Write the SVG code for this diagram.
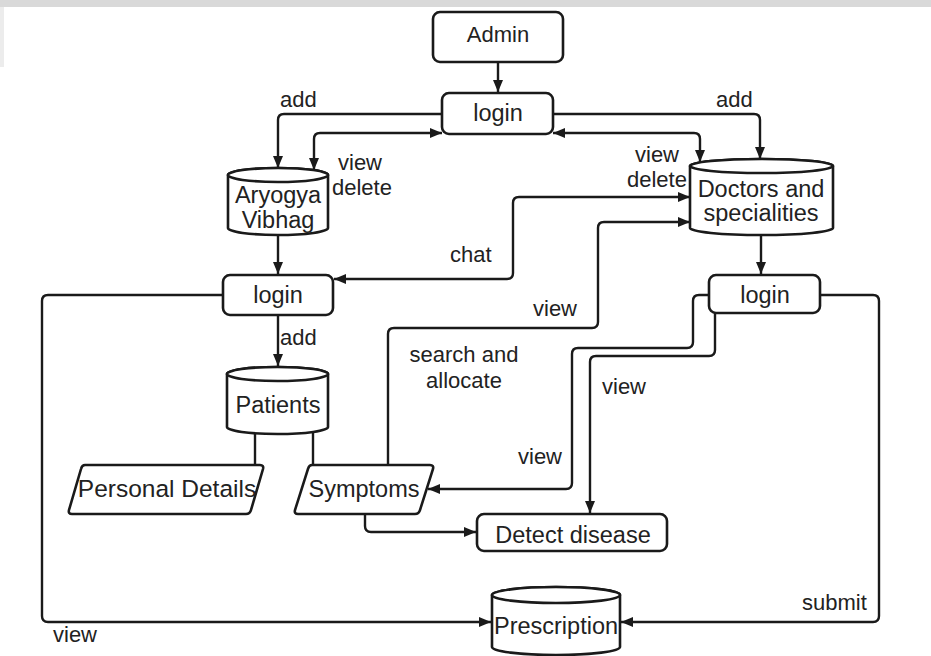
<svg xmlns="http://www.w3.org/2000/svg" width="931" height="656" viewBox="0 0 931 656">
<style>
  .shape { fill: #ffffff; stroke: #1a1a1a; stroke-width: 2.6; }
  .conn { fill: none; stroke: #1a1a1a; stroke-width: 2.4; }
  text { font-family: "Liberation Sans", Arial, sans-serif; font-size: 22px; fill: #222222; }
  .n { font-size: 23.5px; text-anchor: middle; }
  .c { text-anchor: middle; }
</style>
<defs>
  <marker id="arr" markerUnits="userSpaceOnUse" markerWidth="13" markerHeight="11" refX="12" refY="5" orient="auto-start-reverse" viewBox="0 0 13 11">
    <path d="M0,0 L12,5 L0,10 Z" fill="#1a1a1a"/>
  </marker>
</defs>
<rect x="0" y="0" width="931" height="7" fill="#d9d9d9"/>
<rect x="0" y="7" width="4" height="60" fill="#ececec"/>

<g id="connectors">
  <path class="conn" d="M498,62 V92" marker-end="url(#arr)"/>
  <path class="conn" d="M442,114 H284 Q278,114 278,120 V168" marker-end="url(#arr)"/>
  <path class="conn" d="M442,133 H320 Q314,133 314,139 V170" marker-start="url(#arr)" marker-end="url(#arr)"/>
  <path class="conn" d="M553,114 H754 Q760,114 760,120 V159" marker-end="url(#arr)"/>
  <path class="conn" d="M553,133 H694 Q700,133 700,139 V162" marker-start="url(#arr)" marker-end="url(#arr)"/>
  <path class="conn" d="M278,235 V274" marker-end="url(#arr)"/>
  <path class="conn" d="M334,279 H507 Q513,279 513,273 V203 Q513,197 519,197 H690" marker-start="url(#arr)" marker-end="url(#arr)"/>
  <path class="conn" d="M388,465 V334 Q388,328 394,328 H592 Q598,328 598,322 V228 Q598,222 604,222 H690" marker-end="url(#arr)"/>
  <path class="conn" d="M761,235 V274" marker-end="url(#arr)"/>
  <path class="conn" d="M709,295 H699 Q693,295 693,301 V342 Q693,348 687,348 H578 Q572,348 572,354 V483 Q572,489 566,489 H428" marker-end="url(#arr)"/>
  <path class="conn" d="M715,313 V350 Q715,356 709,356 H596 Q590,356 590,362 V513" marker-end="url(#arr)"/>
  <path class="conn" d="M820,295 H873 Q879,295 879,301 V616 Q879,622 873,622 H621" marker-end="url(#arr)"/>
  <path class="conn" d="M223,295 H48 Q42,295 42,301 V616 Q42,622 48,622 H491" marker-end="url(#arr)"/>
  <path class="conn" d="M278,315 V366" marker-end="url(#arr)"/>
  <path class="conn" d="M255,432 V465"/>
  <path class="conn" d="M313,432 V465"/>
  <path class="conn" d="M365,514 V526 Q365,532 371,532 H476" marker-end="url(#arr)"/>
</g>

<g id="labels">
  <text x="280" y="107">add</text>
  <text x="716" y="107">add</text>
  <text x="338" y="170">view</text>
  <text x="332" y="195">delete</text>
  <text x="635" y="162">view</text>
  <text x="627" y="187">delete</text>
  <text x="450" y="262">chat</text>
  <text x="533" y="316">view</text>
  <text x="464" y="362" class="c">search and</text>
  <text x="464" y="388" class="c">allocate</text>
  <text x="602" y="394">view</text>
  <text x="518" y="464">view</text>
  <text x="802" y="610">submit</text>
  <text x="53" y="642">view</text>
  <text x="280" y="345">add</text>
</g>

<g id="admin">
  <rect class="shape" x="433" y="12" width="130" height="50" rx="7"/>
  <text x="498" y="42" class="c">Admin</text>
</g>
<g id="login-admin">
  <rect class="shape" x="442" y="93" width="111" height="41" rx="7"/>
  <text x="498" y="121" class="n">login</text>
</g>
<g id="aryogya-vibhag">
  <path class="shape" d="M228,175 V228 A50,7 0 0 0 328,228 V175 A50,7 0 0 0 228,175 Z"/>
  <ellipse class="shape" cx="278" cy="175" rx="50" ry="7"/>
  <text x="278" y="203" class="n">Aryogya</text>
  <text x="278" y="228" class="n">Vibhag</text>
</g>
<g id="doctors">
  <path class="shape" d="M690,166 V228 A71.5,7 0 0 0 833,228 V166 A71.5,7 0 0 0 690,166 Z"/>
  <ellipse class="shape" cx="761.5" cy="166" rx="71.5" ry="7"/>
  <text x="761" y="197" class="n">Doctors and</text>
  <text x="761" y="221" class="n">specialities</text>
</g>
<g id="login-aryogya">
  <rect class="shape" x="223" y="275" width="110" height="40" rx="7"/>
  <text x="278" y="303" class="n">login</text>
</g>
<g id="login-doctors">
  <rect class="shape" x="709" y="275" width="111" height="38" rx="7"/>
  <text x="765" y="303" class="n">login</text>
</g>
<g id="patients">
  <path class="shape" d="M227,374 V427 A50.5,7 0 0 0 328,427 V374 A50.5,7 0 0 0 227,374 Z"/>
  <ellipse class="shape" cx="277.5" cy="374" rx="50.5" ry="7"/>
  <text x="278" y="413" class="n">Patients</text>
</g>
<g id="personal-details">
  <path class="shape" d="M85,465 H260 Q264,465 263,469 L251,510 Q250,514 246,514 H72 Q68,514 69,510 L81,469 Q82,465 85,465 Z"/>
  <text x="167" y="497" class="n" style="font-size:24.5px">Personal Details</text>
</g>
<g id="symptoms">
  <path class="shape" d="M312,465 H430 Q434,465 433,469 L420,510 Q419,514 415,514 H298 Q294,514 295,510 L308,469 Q309,465 312,465 Z"/>
  <text x="364" y="497" class="n">Symptoms</text>
</g>
<g id="detect-disease">
  <rect class="shape" x="477" y="514" width="190" height="37" rx="7"/>
  <text x="573" y="543" class="n">Detect disease</text>
</g>
<g id="prescription">
  <path class="shape" d="M492,595 V647 A64,8 0 0 0 620,647 V595 A64,8 0 0 0 492,595 Z"/>
  <ellipse class="shape" cx="556" cy="595" rx="64" ry="8"/>
  <text x="556" y="634" class="n">Prescription</text>
</g>
</svg>
